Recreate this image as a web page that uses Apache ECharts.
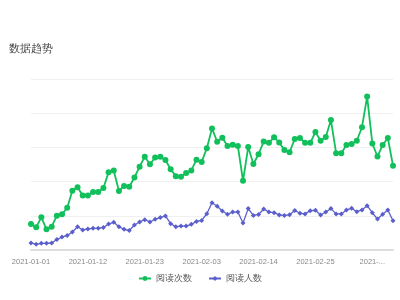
<!DOCTYPE html>
<html>
<head>
<meta charset="utf-8">
<script src="https://cdn.jsdelivr.net/npm/echarts@6/dist/echarts.min.js"></script>
<style>html,body{margin:0;padding:0;background:#fff}#c{width:400px;height:300px}</style>
</head>
<body>
<div id="c"></div>
<script>
var titleText = '数据趋势';
var seriesNames = ['阅读次数', '阅读人数'];
var startDate = '2021-01-01';
var dayCount = 71;

var readCounts = [152,133,191,121,136,201,209,247,347,367,319,319,339,339,363,454,465,345,374,370,
  424,487,546,501,541,546,526,472,432,429,450,465,528,515,595,711,633,657,608,616,
  608,405,602,503,560,635,627,659,629,585,572,649,655,627,627,690,639,661,760,566,
  566,614,620,639,718,897,623,547,614,655,493];
var readers = [41,33,39,39,41,61,76,85,105,136,117,123,127,127,132,152,162,136,121,114,
  146,164,177,164,180,190,199,154,136,140,140,150,167,173,212,276,256,228,209,222,
  222,158,242,202,208,240,222,218,205,202,206,231,215,211,230,232,205,222,242,211,
  211,234,244,224,234,259,218,181,209,234,171];

var dates = [];
(function () {
  var d = new Date(startDate + 'T00:00:00Z');
  for (var i = 0; i < dayCount; i++) {
    var t = new Date(d.getTime() + i * 86400000);
    var m = ('0' + (t.getUTCMonth() + 1)).slice(-2);
    var dd = ('0' + t.getUTCDate()).slice(-2);
    dates.push(t.getUTCFullYear() + '-' + m + '-' + dd);
  }
})();

var chart = echarts.init(document.getElementById('c'));
chart.setOption({
  animation: false,
  title: {
    text: titleText, left: 4, top: 38,
    textStyle: {fontSize: 11, fontWeight: 'normal', color: '#444'}
  },
  legend: {
    bottom: 12, left: 'center', itemGap: 16, itemWidth: 12, itemHeight: 6,
    textStyle: {fontSize: 9, color: '#555'},
    data: seriesNames
  },
  grid: {left: 31, right: 7, top: 79, bottom: 50, containLabel: false},
  xAxis: {
    type: 'category', data: dates, boundaryGap: false,
    axisLine: {lineStyle: {color: '#ddd', width: 2}},
    axisTick: {show: false},
    axisLabel: {
      interval: 10, fontSize: 7.5, color: '#888', margin: 8,
      formatter: function (v, i) { return i >= 66 ? v.slice(0, 5) + '...' : v; }
    }
  },
  yAxis: {
    type: 'value', min: 0, max: 1000, interval: 200,
    axisLabel: {show: false}, axisLine: {show: false}, axisTick: {show: false},
    splitLine: {lineStyle: {color: '#f0f0f0'}}
  },
  series: [
    {name: seriesNames[0], type: 'line', data: readCounts, symbol: 'circle', symbolSize: 6,
      showSymbol: true, showAllSymbol: true,
      itemStyle: {color: '#12c05b'}, lineStyle: {width: 1.8, color: '#12c05b'}},
    {name: seriesNames[1], type: 'line', data: readers, symbol: 'diamond', symbolSize: 5,
      showSymbol: true, showAllSymbol: true,
      itemStyle: {color: '#5a5fcc'}, lineStyle: {width: 1.3, color: '#5a5fcc'}}
  ]
});
</script>
</body>
</html>
